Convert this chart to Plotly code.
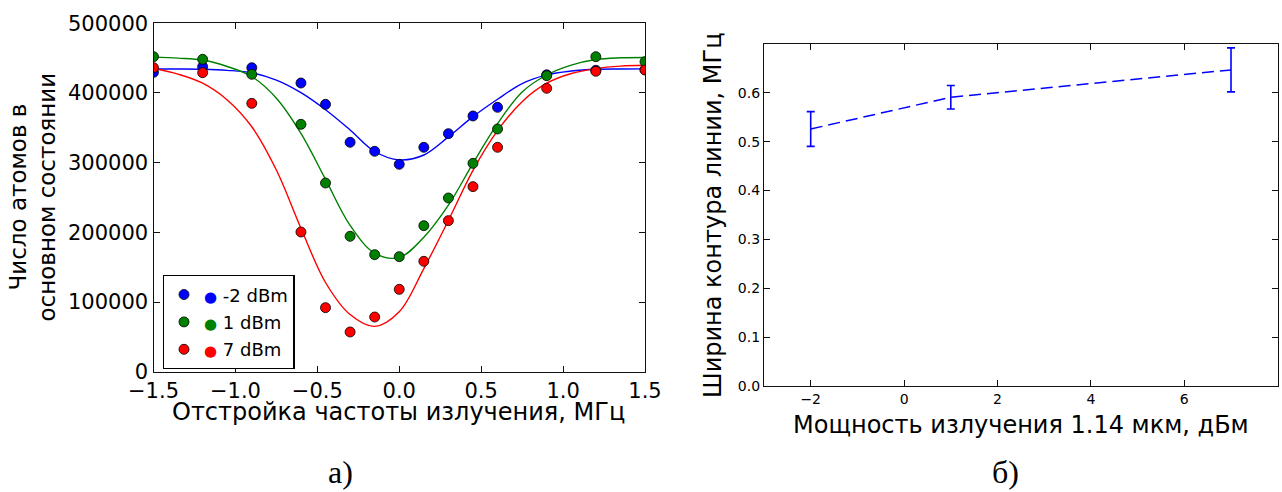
import plotly.graph_objects as go

# ---------------- data: panel a) ----------------
detuning = [-1.5, -1.2, -0.9, -0.6, -0.45, -0.3, -0.15, 0.0, 0.15, 0.3, 0.45, 0.6, 0.9, 1.2, 1.5]
atoms_m2dbm = [429600, 437700, 436300, 414300, 383700, 329200, 316300, 297600,
               322000, 341600, 367000, 379400, 426000, 432500, 433500]
atoms_1dbm = [452100, 448300, 426800, 355000, 270800, 194300, 168000, 165100,
              209600, 249300, 299000, 348300, 424800, 452100, 444900]
atoms_7dbm = [436300, 429100, 385100, 200500, 91900, 57000, 78500, 118200,
              158400, 216800, 265600, 322000, 406700, 431100, 433000]

fit_detuning = [-1.5, -1.35, -1.2, -1.05, -0.9, -0.75, -0.6, -0.45, -0.3, -0.15, 0.0,
                0.15, 0.3, 0.45, 0.6, 0.75, 0.9, 1.05, 1.2, 1.35, 1.5]
fit_m2dbm = [434500, 434400, 434000, 432500, 429000, 418500, 400500, 376000, 347000, 316000, 304000,
             311000, 337000, 366000, 391000, 413500, 426000, 431500, 434000, 434500, 434600]
fit_1dbm = [451500, 450000, 447300, 438000, 423500, 392500, 342000, 276000, 210000, 170000, 164000,
            193000, 239000, 299000, 356000, 401500, 425800, 440000, 448000, 450500, 451000]
fit_7dbm = [435500, 427000, 414000, 390000, 351500, 289500, 206000, 128000, 82000, 65000, 86000,
            148000, 217000, 289000, 346000, 387500, 414000, 428000, 435000, 438500, 439700]

series_names = ["-2 dBm", "1 dBm", "7 dBm"]
series_colors = ["#0000ff", "#008000", "#ff0000"]

# ---------------- data: panel б) ----------------
power_dbm = [-2, 1, 7]
line_width_mhz = [0.526, 0.591, 0.647]
line_width_err = [0.0355, 0.024, 0.045]

left_xticks = [-1.5, -1.0, -0.5, 0.0, 0.5, 1.0, 1.5]
left_yticks = [0, 100000, 200000, 300000, 400000, 500000]
right_xticks = [-2, 0, 2, 4, 6, 8]
right_yticks = [0.0, 0.1, 0.2, 0.3, 0.4, 0.5, 0.6]

W, H = 1282, 492
FONT = "DejaVu Sans"

fig = go.Figure()

fits = [fit_m2dbm, fit_1dbm, fit_7dbm]
points = [atoms_m2dbm, atoms_1dbm, atoms_7dbm]

for fy, c in zip(fits, series_colors):
    fig.add_trace(go.Scatter(x=fit_detuning, y=fy, mode="lines",
                             line=dict(color=c, width=1.4, shape="spline"),
                             showlegend=False, hoverinfo="skip",
                             xaxis="x", yaxis="y"))

for i, (py, c, n) in enumerate(zip(points, series_colors, series_names)):
    fig.add_trace(go.Scatter(
        x=detuning, y=py, mode="markers",
        marker=dict(color=c, size=10, line=dict(color="black", width=0.8)),
        name="<span style='color:%s;font-size:15px'>\u25CF</span> %s" % (c, n),
        legendgroup="g%d" % i,
        xaxis="x", yaxis="y"))

fig.add_trace(go.Scatter(
    x=power_dbm, y=line_width_mhz, mode="lines",
    line=dict(color="#0000ff", width=1.5, dash="12px,6px"),
    error_y=dict(type="data", array=line_width_err, color="#0000ff", thickness=1.6, width=4),
    showlegend=False, xaxis="x2", yaxis="y2"))

axis_common = dict(showline=True, linecolor="#111111", linewidth=1.3, mirror="ticks",
                   ticks="inside", ticklen=6, tickcolor="#111111", tickwidth=1,
                   showgrid=False, zeroline=False, automargin=False)

fig.update_layout(
    template="none",
    width=W, height=H, margin=dict(l=0, r=0, t=0, b=0, pad=0), autosize=False,
    paper_bgcolor="white", plot_bgcolor="white",
    font=dict(family=FONT, color="black"),
    xaxis=dict(domain=[153.5 / W, 645 / W], range=[-1.5, 1.5], tickvals=left_xticks,
               tickformat=".1f", tickfont=dict(size=21, family=FONT), anchor="y", **axis_common),
    yaxis=dict(domain=[1 - 371.7 / H, 1 - 23.3 / H], range=[0, 500000], tickvals=left_yticks,
               tickformat="d", tickfont=dict(size=21, family=FONT), anchor="x", **axis_common),
    xaxis2=dict(domain=[764 / W, 1277.7 / W], range=[-3, 8], tickvals=right_xticks,
                tickfont=dict(size=14, family=FONT), anchor="y2", **axis_common),
    yaxis2=dict(domain=[1 - 386 / H, 1 - 44 / H], range=[0, 0.7], tickvals=right_yticks,
                tickformat=".1f", tickfont=dict(size=14, family=FONT), anchor="x2", **axis_common),
    legend=dict(x=162.7 / W, y=1 - 275 / H, xanchor="left", yanchor="top",
                bordercolor="black", borderwidth=1.3, bgcolor="white",
                font=dict(size=18, family=FONT), tracegroupgap=1),
    showlegend=True,
)

annots = [
    dict(text="Число атомов в<br>основном состоянии", x=32.5 / W, y=1 - 197 / H,
         textangle=-90, font=dict(size=23)),
    dict(text="Отстройка частоты излучения, МГц", x=398 / W, y=1 - 412 / H,
         font=dict(size=24)),
    dict(text="Ширина контура линии, МГц", x=713 / W, y=1 - 215 / H,
         textangle=-90, font=dict(size=24)),
    dict(text="Мощность излучения 1.14 мкм, дБм", x=1021 / W, y=1 - 425 / H,
         font=dict(size=24)),
    dict(text="а)", x=340 / W, y=1 - 472 / H, font=dict(size=32, family="Liberation Serif")),
    dict(text="б)", x=1005 / W, y=1 - 472 / H, font=dict(size=32, family="Liberation Serif")),
]
for a in annots:
    a.update(xref="paper", yref="paper", showarrow=False, xanchor="center", yanchor="middle")
    fig.add_annotation(**a)

fig.write_html("out.html", post_script="document.body.style.margin='0';")
